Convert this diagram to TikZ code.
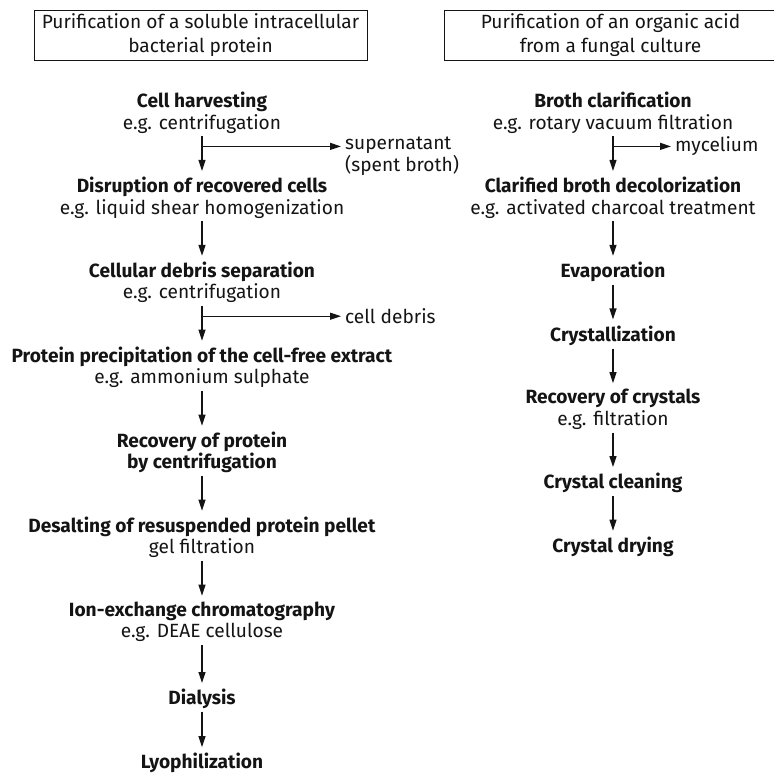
\documentclass[tikz,border=0pt]{standalone}
\usepackage{fontspec}
\setmainfont{Fira Sans}
\usetikzlibrary{arrows.meta,positioning}
\definecolor{ink}{HTML}{141414}

\begin{document}
\begin{tikzpicture}[x=1bp, y=1bp,
      node distance=43.5bp,
      stage/.style={inner sep=0pt, align=center, font=\fontsize{19.2}{21.5}\selectfont, text=ink},
      side/.style={inner sep=0pt, align=left, font=\fontsize{19.2}{21.5}\selectfont, text=ink},
      titlebox/.style={draw=ink, line width=0.9bp, minimum width=333bp, minimum height=50bp, inner sep=0pt, align=center, font=\fontsize{19.2}{24}\selectfont, text=ink},
      arr/.style={-{Triangle[length=11bp,width=7bp]}, line width=1.2bp, color=ink, shorten <=3bp, shorten >=6bp},
      branch/.style={-{Triangle[length=11bp,width=7bp]}, line width=1.2bp, color=ink, shorten >=4bp}]
    \useasboundingbox (0,0) rectangle (774,-773);
    % titles
    \node[titlebox] (ttlL) at (200.5,-35.5) {Purification of a soluble intracellular\\bacterial protein};
    \node[titlebox] (ttlR) at (610.5,-35.5) {Purification of an organic acid\\from a fungal culture};
    % bacterial protein
    \node[stage, anchor=north] (harvest) at (202,-92) {\textbf{Cell harvesting}\\e.g. centrifugation};
    \node[stage, below=of harvest] (disrupt) {\textbf{Disruption of recovered cells}\\e.g. liquid shear homogenization};
    \node[stage, below=of disrupt] (debrissep) {\textbf{Cellular debris separation}\\e.g. centrifugation};
    \node[stage, below=of debrissep] (precip) {\textbf{Protein precipitation of the cell-free extract}\\e.g. ammonium sulphate};
    \node[stage, below=of precip] (recover) {\textbf{Recovery of protein}\\\textbf{by centrifugation}};
    \node[stage, below=of recover] (desalt) {\textbf{Desalting of resuspended protein pellet}\\gel filtration};
    \node[stage, below=of desalt] (ionex) {\textbf{Ion-exchange chromatography}\\e.g. DEAE cellulose};
    \node[stage, below=47bp of ionex] (dialysis) {\textbf{Dialysis}};
    \node[stage, below=44bp of dialysis] (lyoph) {\textbf{Lyophilization}};
    \coordinate[below=13bp of harvest.south] (b1);
    \coordinate[below=13bp of debrissep.south] (b2);
    \node[side, anchor=west] (spent) at ([xshift=143bp, yshift=-10bp]b1) {supernatant\\(spent broth)};
    \node[side, right=143bp of b2] (debris) {cell debris};
    \draw[arr] (harvest) -- (disrupt);
    \draw[arr] (disrupt) -- (debrissep);
    \draw[arr] (debrissep) -- (precip);
    \draw[arr] (precip) -- (recover);
    \draw[arr] (recover) -- (desalt);
    \draw[arr] (desalt) -- (ionex);
    \draw[arr] (ionex) -- (dialysis);
    \draw[arr] (dialysis) -- (lyoph);
    \draw[branch] (b1) -- (b1 -| spent.west);
    \draw[branch] (b2) -- (debris.west);
    % organic acid
    \node[stage, anchor=north] (clarif) at (613,-92) {\textbf{Broth clarification}\\e.g. rotary vacuum filtration};
    \node[stage, below=of clarif] (decolor) {\textbf{Clarified broth decolorization}\\e.g. activated charcoal treatment};
    \node[stage, below=of decolor] (evap) {\textbf{Evaporation}};
    \node[stage, below=of evap] (cryst) {\textbf{Crystallization}};
    \node[stage, below=of cryst] (recov) {\textbf{Recovery of crystals}\\e.g. filtration};
    \node[stage, below=of recov] (clean) {\textbf{Crystal cleaning}};
    \node[stage, below=of clean] (dry) {\textbf{Crystal drying}};
    \coordinate[below=13bp of clarif.south] (b3);
    \node[side, right=62bp of b3] (myc) {mycelium};
    \draw[arr] (clarif) -- (decolor);
    \draw[arr] (decolor) -- (evap);
    \draw[arr] (evap) -- (cryst);
    \draw[arr] (cryst) -- (recov);
    \draw[arr] (recov) -- (clean);
    \draw[arr] (clean) -- (dry);
    \draw[branch] (b3) -- (myc.west);
  \end{tikzpicture}
\end{document}
